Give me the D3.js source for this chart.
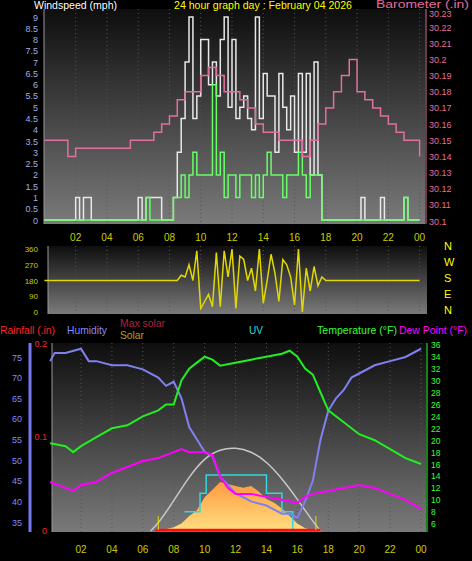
<!DOCTYPE html>
<html><head><meta charset="utf-8">
<script src="https://cdn.jsdelivr.net/npm/d3@7"></script>
<style>body{margin:0;background:#000}svg{display:block;font-family:"Liberation Sans","DejaVu Sans",sans-serif}</style>
</head><body><svg id="c" width="472" height="561"></svg>
<script>
const hourTicks=[2,4,6,8,10,12,14,16,18,20,22,24];
const hourLabels=["02","04","06","08","10","12","14","16","18","20","22","00"];
const windTicks=[0,0.5,1,1.5,2,2.5,3,3.5,4,4.5,5,5.5,6,6.5,7,7.5,8,8.5,9];
const baroTicks=[30.1,30.11,30.12,30.13,30.14,30.15,30.16,30.17,30.18,30.19,30.2,30.21,30.22,30.23];
// wind, 0.25h steps from 0 to 24
const gustT=d3.range(0,24.01,0.25);
const gust=[0,0,0,0,0,0,0,0,1,0,1,1,0,0,0,0,0,0,0,0,0,0,0,0,1,0,1,1,1,1,0,0,0,1,3,4.5,7,9,4.5,5.5,8,8,6,7,5.5,8,9,5,8,4.5,5,5.5,4.5,4,9,4.5,6.5,5.5,5.5,3,6.5,5,4,5.5,3,6.5,3,6.5,2,7,2,0,0,0,0,0,0,0,0,0,0,1,0,0,0,0,1,0,0,0,0,0,1,0,0,0,0];
const avg=[0,0,0,0,0,0,0,0,0,0,0,0,0,0,0,0,0,0,0,0,0,0,0,0,0,0,1,0,0,0,0,0,0,1,1,2,1,2,3,2,2,2,2,6,2,3,1,2,2,1,2,2,2,1,2,1,2,3,2,2,2,1,2,2,2,3,2,1,2,2,2,0,0,0,0,0,0,0,0,0,0,0,0,0,0,0,0,0,0,0,0,0,1,0,0,0,0];
const baroT=d3.range(0,24.01,0.5);
const baro=[30.15,30.15,30.15,30.14,30.145,30.145,30.145,30.145,30.145,30.145,30.145,30.15,30.15,30.15,30.155,30.16,30.165,30.175,30.18,30.18,30.19,30.195,30.19,30.18,30.18,30.175,30.17,30.16,30.155,30.155,30.15,30.15,30.15,30.14,30.15,30.16,30.17,30.18,30.19,30.2,30.18,30.175,30.17,30.165,30.16,30.155,30.15,30.15,30.14];
const dirT=[0,8.5,8.75,9,9.25,9.5,9.75,10,10.25,10.5,10.75,11,11.25,11.5,11.75,12,12.25,12.5,12.75,13,13.25,13.5,13.75,14,14.25,14.5,14.75,15,15.25,15.5,15.75,16,16.25,16.5,16.75,17,17.25,17.5,17.75,18,24];
const dir=[180,180,210,200,270,180,350,20,60,100,30,340,30,350,200,360,20,320,300,180,250,120,360,50,180,330,220,60,300,270,200,40,360,0,250,120,260,150,200,180,180];
const dirTicks=[0,90,180,270,360];
const humT=[0,0.3,1,2,2.5,3,4,5,6,7,7.5,8,8.5,9,9.5,10,10.5,11,11.5,12,12.5,13,14,14.5,15,15.5,16,16.5,17,17.5,18,18.5,19,19.5,20,21,22,23,24];
const hum=[74,76,76,77,74,74,73,73,72,70,68,69,65,58,55,52,51,46,44,42,41,40,39,38,37,37,36,40,45,55,62,65,67,70,71,73,74,75,77];
const tempT=[0,1,1.5,2,3,4,5,6,7,7.5,8,8.5,9,9.5,10,10.5,11,12,13,14,15,15.5,16,16.5,17,17.5,18,19,20,21,22,23,24];
const temp=[19.5,19,18,19,20.5,22,22.5,24,25,26,26,30,32,33,34,33.5,32.5,33,33.5,34,34.5,35,34,32,31,28,25,23,21,20,18.5,17,16];
const dewT=[0,1,1.5,2,3,4,5,6,7,8,8.5,9,10,10.5,11,11.5,12,13,14,15,16,16.5,17,18,19,20,21,22,23,24];
const dew=[13,12,11.5,12.5,13,14.5,15.5,16.5,17,18,18.5,18,18,17.5,14,12,11,11,10.5,10,9.5,10.5,11,11.5,12,12.5,12,11,10,8.5];
const maxSolT=[6.5,7,8,9,10,11,12,13,14,15,16,17,17.5];
const maxSol=[0,40,160,290,390,435,445,425,370,280,170,50,0];
const solT=[7,8,8.5,9,9.5,10,10.5,11,11.5,12,12.5,13,13.5,14,14.5,15,15.5,16,16.5,17,17.5];
const sol=[0,20,40,80,110,180,220,260,250,240,230,240,210,170,150,120,80,40,15,5,0];
const uvT=[8.7,9.7,10.1,13.5,14,15,15.7,16];
const uv=[1,2,3,3,2,1,0,0];
const humTicks=[35,40,45,50,55,60,65,70,75];
const tempTicks=[6,8,10,12,14,16,18,20,22,24,26,28,30,32,34,36];

const svg=d3.select("#c");
const defs=svg.append("defs");
const g=defs.append("linearGradient").attr("id","bg").attr("x1",0).attr("x2",0).attr("y1",0).attr("y2",1);
g.append("stop").attr("offset","0").attr("stop-color","#0e0e0e");
g.append("stop").attr("offset","1").attr("stop-color","#7a7a7a");
const sg=defs.append("linearGradient").attr("id","sg").attr("x1",0).attr("x2",0).attr("y1",0).attr("y2",1);
sg.append("stop").attr("offset","0").attr("stop-color","#ff9a40");
sg.append("stop").attr("offset","1").attr("stop-color","#ffe080");

function panel(x0,x1,y0,y1,xs){
  svg.append("rect").attr("x",x0).attr("y",y0).attr("width",x1-x0).attr("height",y1-y0).attr("fill","url(#bg)");
  hourTicks.forEach(h=>svg.append("line").attr("x1",xs(h)).attr("x2",xs(h)).attr("y1",y0).attr("y2",y1).attr("stroke","#555").attr("stroke-dasharray","1,3"));
  svg.append("line").attr("x1",x0).attr("x2",x0).attr("y1",y0).attr("y2",y1).attr("stroke","#999");
}
function xlabels(xs,y){
  hourTicks.forEach((h,i)=>svg.append("text").attr("x",xs(h)).attr("y",y).attr("text-anchor","middle").attr("fill","#cccc00").attr("font-size",10).text(hourLabels[i]));
}
function label(x,y,w,c,t,fs){
  svg.append("text").attr("x",x).attr("y",y).attr("fill",c).attr("font-size",fs||11).attr("textLength",w).attr("lengthAdjust","spacingAndGlyphs").text(t);
}
// ---- top
const xT=d3.scaleLinear().domain([0,24]).range([44.4,419.6]);
const yW=d3.scaleLinear().domain([0,9]).range([220,17]);
const yB=d3.scaleLinear().domain([30.1,30.23]).range([221,11]);
panel(44,425,9,224,xT);
windTicks.forEach(v=>svg.append("text").attr("x",38).attr("y",yW(v)+3.5).attr("text-anchor","end").attr("fill","#9ab0e8").attr("font-size",9).text(v));
baroTicks.forEach(v=>svg.append("text").attr("x",429).attr("y",Math.max(yB(v)+3.5,17)).attr("fill","#e070a0").attr("font-size",9).text(v.toFixed(2).replace(/0$/,"")));
svg.append("line").attr("x1",426).attr("x2",426).attr("y1",9).attr("y2",224).attr("stroke","#e070a0");
const windLine=d3.line().x((d,i)=>xT(gustT[i])).y(d=>yW(d)).curve(d3.curveStepAfter);
svg.append("path").attr("d",windLine(gust)).attr("fill","none").attr("stroke","#e8e8e8").attr("stroke-width",1.5);
svg.append("path").attr("d",windLine(avg)).attr("fill","none").attr("stroke","#66ff66").attr("stroke-width",1.5);
svg.append("path").attr("d",d3.line().x((d,i)=>xT(baroT[i])).y(d=>yB(d)).curve(d3.curveStepAfter)(baro)).attr("fill","none").attr("stroke","#e070a0").attr("stroke-width",1.5);
xlabels(xT,241);
label(34,9,83,"#fff","Windspeed (mph)");
label(174,9,178,"#ffff00","24 hour graph day : February 04 2026");
label(376,8,93,"#e070a0","Barometer (.in)",10);
// ---- middle
const yD=d3.scaleLinear().domain([0,360]).range([312,249]);
panel(48,427,246,314,xT);
dirTicks.forEach(v=>svg.append("text").attr("x",38).attr("y",yD(v)+3).attr("text-anchor","end").attr("fill","#cccc00").attr("font-size",8).text(v));
svg.append("path").attr("d",d3.line().x((d,i)=>xT(dirT[i])).y(d=>yD(d))(dir)).attr("fill","none").attr("stroke","#e0d800").attr("stroke-width",1.5);
["N","W","S","E","N"].forEach((t,i)=>svg.append("text").attr("x",444).attr("y",250+i*16).attr("fill","#ffff00").attr("font-size",11).text(t));
// ---- bottom
const xB=d3.scaleLinear().domain([0,24]).range([50.1,421]);
const yH=d3.scaleLinear().domain([35,75]).range([522,357]);
const yTp=d3.scaleLinear().domain([6,34]).range([523.7,356.7]);
const yS=d3.scaleLinear().domain([0,1000]).range([531,343]);
const yU=d3.scaleLinear().domain([0,3]).range([530,475]);
const yR=d3.scaleLinear().domain([0,0.2]).range([530,343]);
panel(52,426,343,532,xB);
svg.append("line").attr("x1",30).attr("x2",30).attr("y1",343).attr("y2",532).attr("stroke","#7777ee").attr("stroke-width",3);
svg.append("line").attr("x1",427).attr("x2",427).attr("y1",343).attr("y2",532).attr("stroke","#33ff33");
humTicks.forEach(v=>svg.append("text").attr("x",22).attr("y",yH(v)+3.5).attr("text-anchor","end").attr("fill","#8888ff").attr("font-size",9).text(v));
tempTicks.forEach(v=>svg.append("text").attr("x",431).attr("y",yTp(v)+3.5).attr("fill","#33ff33").attr("font-size",8.5).text(v));
[0,0.1,0.2].forEach(v=>svg.append("text").attr("x",47).attr("y",yR(v)+3.5).attr("text-anchor","end").attr("fill","#ff2020").attr("font-size",9).text(v));
svg.append("path").attr("d",d3.area().x((d,i)=>xB(solT[i])).y0(yS(0)).y1(d=>yS(d))(sol)).attr("fill","url(#sg)");
svg.append("path").attr("d",d3.line().x((d,i)=>xB(maxSolT[i])).y(d=>yS(d)).curve(d3.curveBasis)(maxSol)).attr("fill","none").attr("stroke","#c8c8c8").attr("stroke-width",1.5);
svg.append("path").attr("d",d3.line().x((d,i)=>xB(uvT[i])).y(d=>yU(d)).curve(d3.curveStepAfter)(uv)).attr("fill","none").attr("stroke","#30d8e0").attr("stroke-width",1.5);
svg.append("line").attr("x1",xB(6.8)).attr("x2",xB(17.5)).attr("y1",yR(0)).attr("y2",yR(0)).attr("stroke","#ff1010").attr("stroke-width",2.5);
[7,17.2].forEach(h=>svg.append("line").attr("x1",xB(h)).attr("x2",xB(h)).attr("y1",516).attr("y2",530).attr("stroke","#e0d800"));
svg.append("path").attr("d",d3.line().x((d,i)=>xB(humT[i])).y(d=>yH(d))(hum)).attr("fill","none").attr("stroke","#8080f0").attr("stroke-width",2);
svg.append("path").attr("d",d3.line().x((d,i)=>xB(tempT[i])).y(d=>yTp(d))(temp)).attr("fill","none").attr("stroke","#22ee22").attr("stroke-width",2);
svg.append("path").attr("d",d3.line().x((d,i)=>xB(dewT[i])).y(d=>yTp(d))(dew)).attr("fill","none").attr("stroke","#ff00ff").attr("stroke-width",2);
xlabels(xB,553);
label(0,334,55,"#ff2020","Rainfall (.in)");
label(67,334,40,"#8888ff","Humidity");
label(120,327,45,"#b02040","Max solar");
label(120,339,24,"#b0a020","Solar");
label(249,334,14,"#30d8e0","UV");
label(317,334,80,"#33ff33","Temperature (°F)");
label(399,334,68,"#ff00ff","Dew Point (°F)");
</script></body></html>
